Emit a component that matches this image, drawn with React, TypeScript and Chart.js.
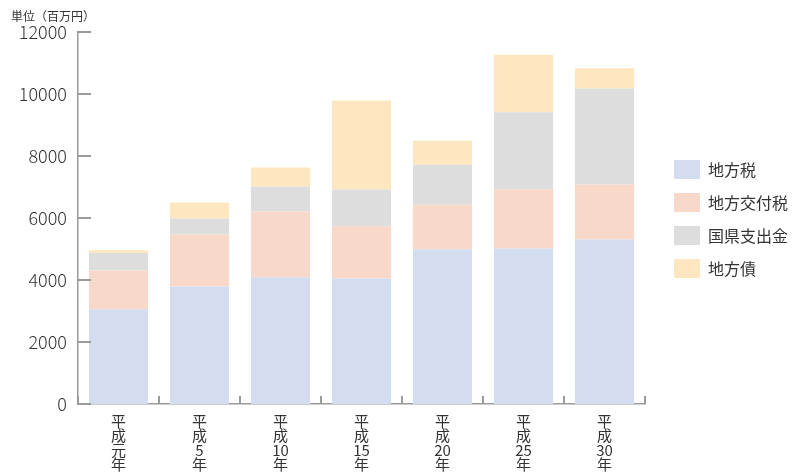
import React, { useEffect, useRef } from "react";
import { Chart, registerables } from "chart.js";

Chart.register(...registerables);

const categories: string[][] = [
  ["平", "成", "元", "年"],
  ["平", "成", "5", "年"],
  ["平", "成", "10", "年"],
  ["平", "成", "15", "年"],
  ["平", "成", "20", "年"],
  ["平", "成", "25", "年"],
  ["平", "成", "30", "年"],
];

const seriesNames = ["地方税", "地方交付税", "国県支出金", "地方債"];
const chihouzei = [3060, 3790, 4090, 4050, 4990, 5020, 5310];
const koufuzei = [1250, 1680, 2120, 1680, 1440, 1910, 1770];
const shishutsukin = [560, 516, 806, 1190, 1290, 2480, 3100];
const chihousai = [87, 516, 613, 2870, 770, 1860, 650];
const seriesColors = ["#d3ddef", "#f8d9c9", "#dcdddc", "#fee7c0"];

const yMin = 0;
const yMax = 12000;
const yStep = 2000;
const unitLabel = "単位（百万円）";

const FONT = "'Noto Sans CJK JP', 'Noto Sans', sans-serif";
const AXIS = "#9a9a9a";

export default function App() {
  const ref = useRef<HTMLCanvasElement | null>(null);

  useEffect(() => {
    if (!ref.current) return;
    const decorPlugin = {
      id: "decor",
      afterDraw(chart: any) {
        const ctx = chart.ctx;
        const area = chart.chartArea;
        const xs = chart.scales.x;
        const ys = chart.scales.y;
        ctx.save();
        ctx.strokeStyle = AXIS;
        ctx.lineWidth = 2;
        ys.ticks.forEach((t: any) => {
          const y = Math.round(ys.getPixelForValue(t.value));
          ctx.beginPath();
          ctx.moveTo(area.left, y);
          ctx.lineTo(area.left + 13, y);
          ctx.stroke();
        });
        const n = xs.ticks.length;
        for (let i = 0; i <= n; i++) {
          let x: number;
          if (i === 0) x = area.left;
          else if (i === n) x = area.right;
          else x = (xs.getPixelForTick(i - 1) + xs.getPixelForTick(i)) / 2;
          x = Math.round(x);
          ctx.beginPath();
          ctx.moveTo(x, area.bottom);
          ctx.lineTo(x, area.bottom - 8);
          ctx.stroke();
        }
        ctx.font = `12px ${FONT}`;
        ctx.fillStyle = "#333";
        ctx.textAlign = "left";
        ctx.textBaseline = "middle";
        ctx.fillText(unitLabel, 11, 16);
        ctx.restore();
      },
    };
    const values = [chihouzei, koufuzei, shishutsukin, chihousai];
    const chart = new Chart(ref.current, {
      type: "bar",
      data: {
        labels: categories,
        datasets: seriesNames.map((name, i) => ({
          label: name,
          data: values[i],
          backgroundColor: seriesColors[i],
          borderWidth: 0,
          barPercentage: 0.73,
          categoryPercentage: 1,
        })),
      },
      options: {
        responsive: false,
        animation: false,
        layout: { padding: { top: 32, right: 0, left: 0, bottom: 0 } },
        plugins: {
          tooltip: { enabled: false },
          legend: {
            position: "right",
            align: "start",
            title: { display: true, text: " ", font: { size: 10 }, padding: { top: 102, bottom: 0 } },
            labels: {
              boxWidth: 26,
              boxHeight: 19,
              padding: 14,
              color: "#333",
              font: { family: FONT, size: 16 },
            },
          },
        },
        scales: {
          x: {
            stacked: true,
            grid: { display: false, drawTicks: false },
            border: { display: true, color: AXIS, width: 1.5 },
            ticks: {
              autoSkip: false,
              maxRotation: 0,
              minRotation: 0,
              padding: 10,
              color: "#333",
              font: { family: FONT, size: 15, lineHeight: 0.96 },
            },
            afterFit(s: any) {
              s.height = 68;
            },
          },
          y: {
            stacked: true,
            min: yMin,
            max: yMax,
            grid: { display: false, drawTicks: false },
            border: { display: true, color: AXIS, width: 1.5 },
            ticks: {
              stepSize: yStep,
              padding: 11,
              color: "#333",
              font: { family: FONT, size: 18, weight: "300" as any },
              callback: (v: any) => String(v),
            },
            afterFit(s: any) {
              s.width = 78;
            },
          },
          yRight: {
            type: "linear",
            position: "right",
            display: true,
            grid: { display: false, drawTicks: false },
            border: { display: false },
            ticks: { display: false },
            afterFit(s: any) {
              s.width = 15;
            },
          },
        },
      } as any,
      plugins: [decorPlugin],
    });
    return () => chart.destroy();
  }, []);

  return (
    <div style={{ position: "absolute", left: 0, top: 0, width: 792, height: 472 }}>
      <canvas ref={ref} width={792} height={472} />
    </div>
  );
}
